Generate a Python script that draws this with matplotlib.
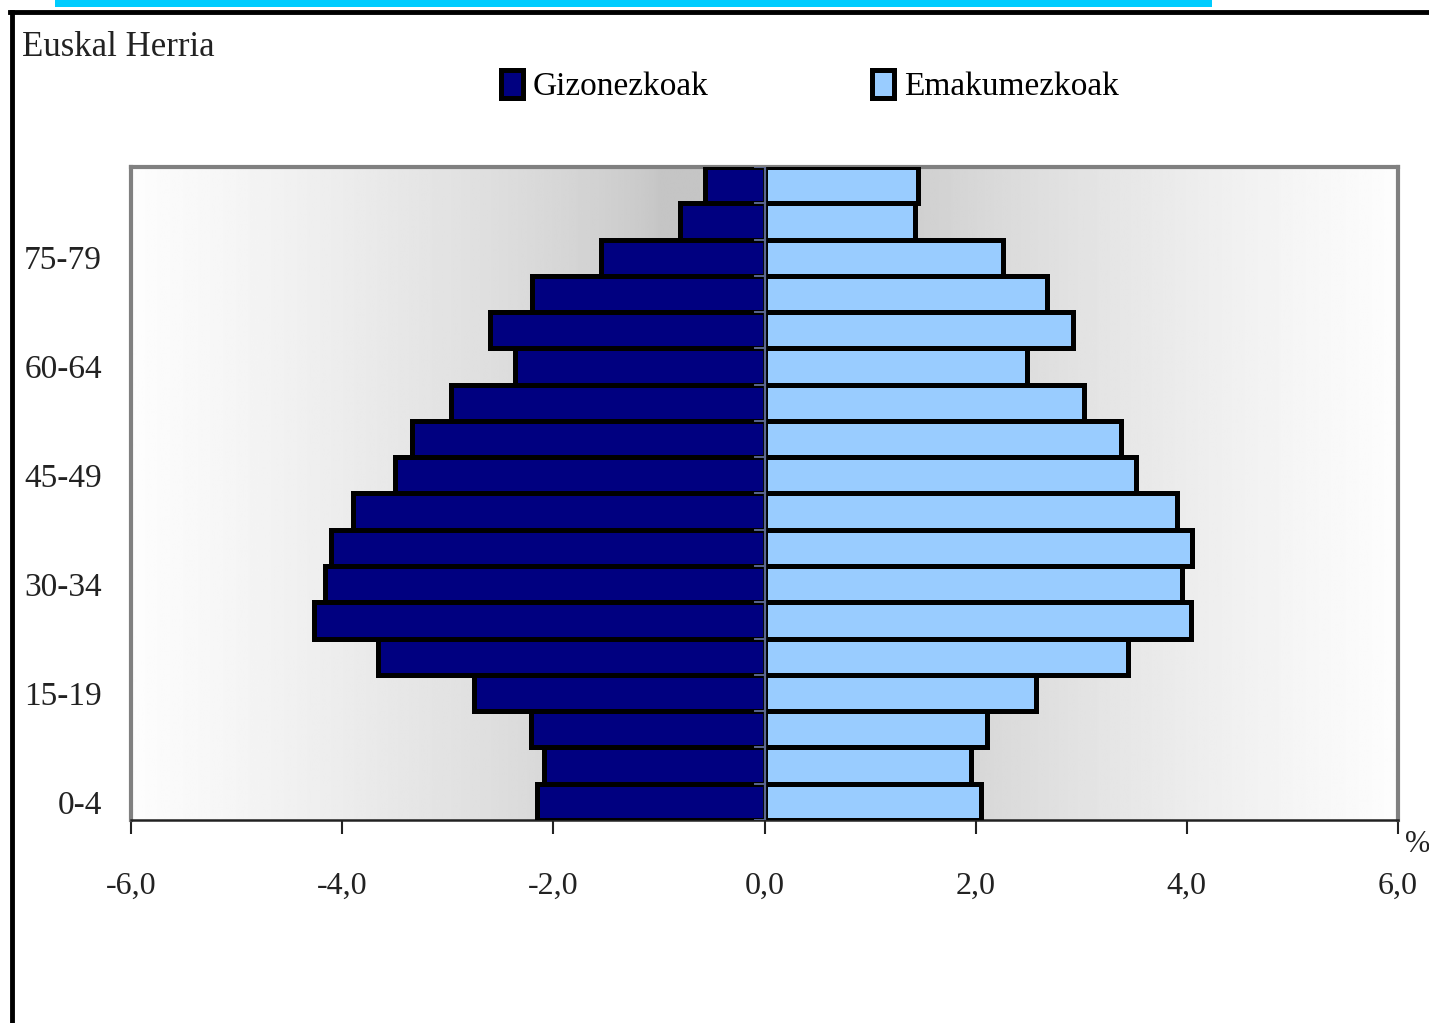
import matplotlib
matplotlib.use("Agg")

import numpy as np
import matplotlib.pyplot as plt
import matplotlib.patches as patches
from matplotlib.lines import Line2D

# =======================
# Data (bottom to top)
# =======================

age_groups = ["0-4", "5-9", "10-14", "15-19", "20-24", "25-29", "30-34", "35-39",
              "40-44", "45-49", "50-54", "55-59", "60-64", "65-69", "70-74",
              "75-79", "80-84", "85+"]
men = [-2.15, -2.09, -2.21, -2.75, -3.66, -4.27, -4.16, -4.11,
       -3.90, -3.50, -3.34, -2.97, -2.36, -2.60, -2.20, -1.55, -0.80, -0.56]
women = [2.05, 1.96, 2.11, 2.57, 3.44, 4.04, 3.95, 4.05,
         3.91, 3.52, 3.38, 3.03, 2.49, 2.92, 2.68, 2.26, 1.43, 1.45]
x_ticks = [-6, -4, -2, 0, 2, 4, 6]
x_labels = ["-6,0", "-4,0", "-2,0", "0,0", "2,0", "4,0", "6,0"]
shown_labels = ["0-4", "15-19", "30-34", "45-49", "60-64", "75-79"]

FONT = "Liberation Serif"
NAVY = "#000080"
LIGHT = "#99CCFF"

# =======================
# Figure
# =======================

fig = plt.figure(figsize=(14.29, 10.23), dpi=100)
W, H = 1429, 1023

ax = fig.add_axes([131 / W, 1 - 820 / H, (1398 - 131) / W, (820 - 167) / H])

# horizontal gradient background, grey at the centre
xs = np.linspace(-6, 6, 600)
t = np.clip((np.abs(xs) - 1.0) / 5.0, 0, 1) ** 0.7
vals = (197 + 56 * t) / 255.0
grad = np.tile(vals, (2, 1))
ax.imshow(grad, cmap="gray", vmin=0, vmax=1, aspect="auto",
          extent=[-6, 6, -0.5, len(age_groups) - 0.5], zorder=0, interpolation="bilinear")

y = np.arange(len(age_groups))
ax.barh(y, men, height=1.0, color=NAVY, edgecolor="black", linewidth=3.6,
        label="Gizonezkoak", zorder=3)
ax.barh(y, women, height=1.0, color=LIGHT, edgecolor="black", linewidth=3.6,
        label="Emakumezkoak", zorder=3)

# centre axis with small ticks at category boundaries
ax.axvline(0, color="#5a6690", lw=1.6, zorder=4)
for b in np.arange(-0.5, len(age_groups), 1.0):
    ax.plot([-0.09, 0], [b, b], color="#5a6690", lw=1.4, zorder=4)

ax.set_xlim(-6, 6)
ax.set_ylim(-0.5, len(age_groups) - 0.5)

ax.set_xticks(x_ticks)
ax.set_xticklabels(x_labels, family=FONT, fontsize=23, color="#222222")
ax.tick_params(axis="x", direction="out", length=10, width=1.5, pad=27, color="#222222")

pos = [age_groups.index(l) for l in shown_labels]
ax.set_yticks(pos)
ax.set_yticklabels(shown_labels, family=FONT, fontsize=24, color="#222222")
ax.tick_params(axis="y", length=0, pad=21)

for side in ["top", "left", "right"]:
    ax.spines[side].set_color("#808080")
    ax.spines[side].set_linewidth(3)
ax.spines["bottom"].set_color("#222222")
ax.spines["bottom"].set_linewidth(1.8)

# =======================
# Page decorations
# =======================

fig.add_artist(patches.Rectangle((55 / W, 1 - 7 / H), (1212 - 55) / W, 7 / H,
                                 transform=fig.transFigure, color="#00CCFF", lw=0))
fig.add_artist(Line2D([10 / W, 1], [1 - 12 / H, 1 - 12 / H], transform=fig.transFigure,
                      color="black", lw=3.5))
fig.add_artist(Line2D([12 / W, 12 / W], [0, 1 - 12 / H], transform=fig.transFigure,
                      color="black", lw=3.5))

fig.text(22 / W, 1 - 47 / H, "Euskal Herria", family=FONT, fontsize=25,
         va="center", ha="left", color="#222222")
fig.text(1405 / W, 1 - 845 / H, "%", family=FONT, fontsize=22,
         va="center", ha="left", color="#222222")

fig.legend(loc="center", bbox_to_anchor=(810 / W, 1 - 86 / H), ncol=2, frameon=False,
           prop={"family": FONT, "size": 24}, handlelength=0.65, handleheight=0.9,
           handletextpad=0.3, columnspacing=4.9, borderaxespad=0)

fig.savefig("out.png", dpi=100)
plt.close(fig)
